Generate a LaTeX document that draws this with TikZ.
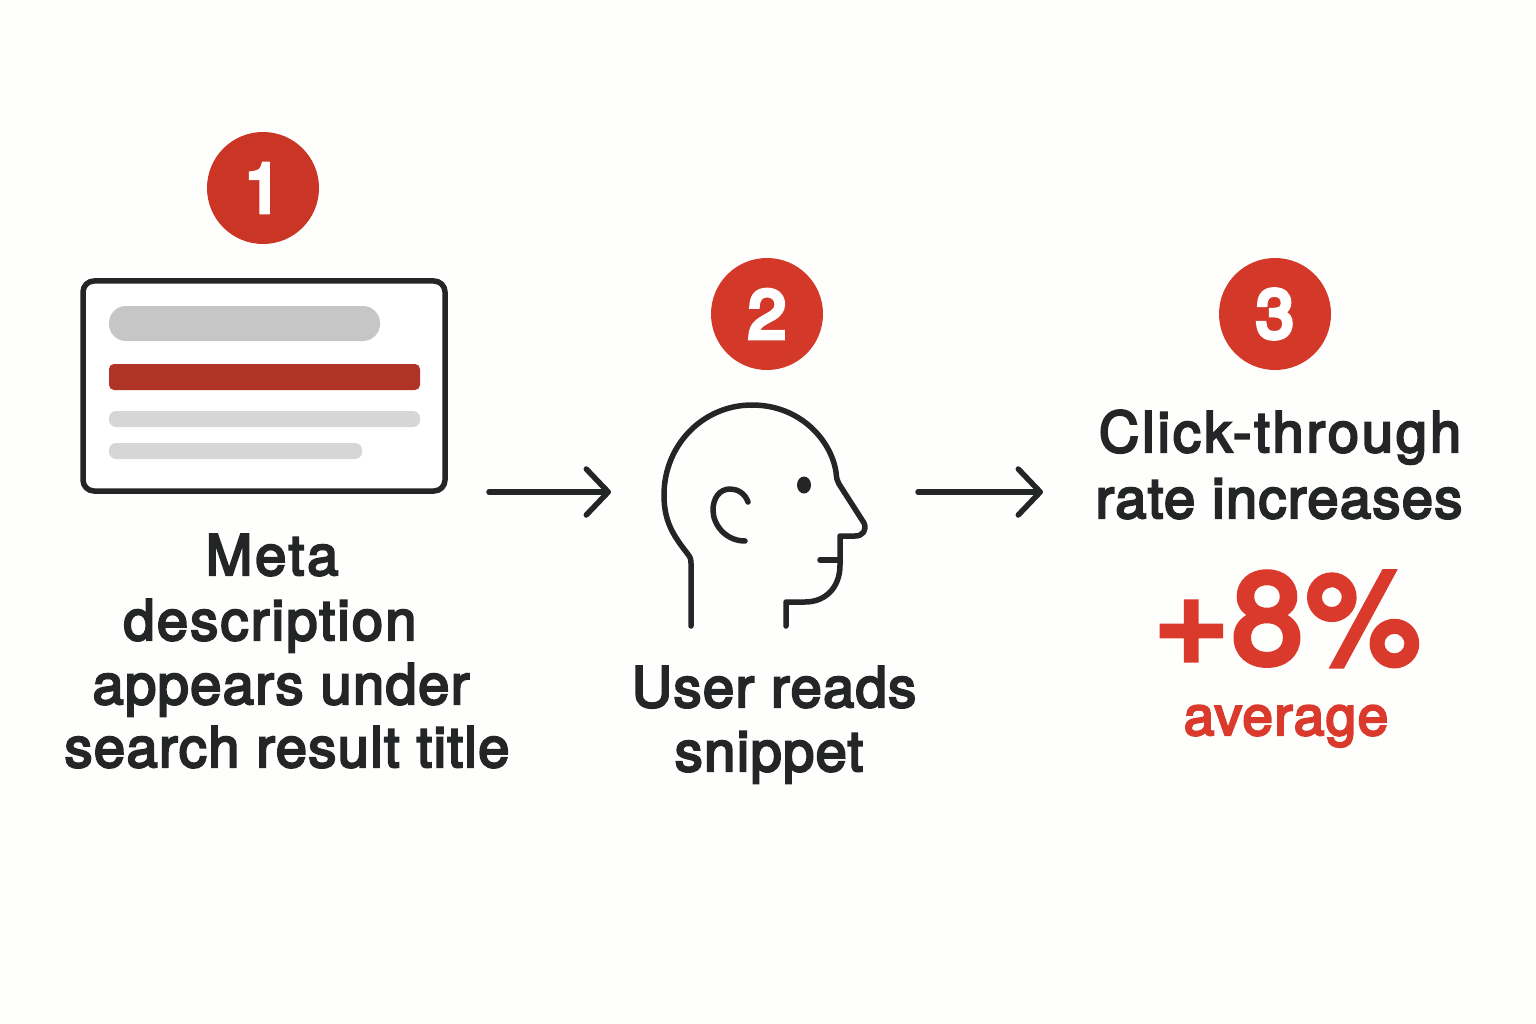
\documentclass[tikz,border=0pt]{standalone}
\usepackage{fontspec}
\setmainfont{TeX Gyre Heros}[LetterSpace=2.5]
\newfontfamily\numfont{TeX Gyre Heros}[Ligatures=TeX]
\newfontfamily\widefont{TeX Gyre Heros}[LetterSpace=5.2]
\newfontfamily\midfont{TeX Gyre Heros}[LetterSpace=4]
\usetikzlibrary{arrows.meta}
\definecolor{ink}{HTML}{232527}
\definecolor{redA}{HTML}{CB3526}
\definecolor{redB}{HTML}{D33829}
\definecolor{redT}{HTML}{DA3A2C}
\definecolor{barred}{HTML}{B03327}
\definecolor{grayA}{HTML}{C6C6C6}
\definecolor{grayB}{HTML}{D6D6D6}
\definecolor{paper}{HTML}{FEFEFD}
\newcommand{\heavy}[1]{\special{pdf:code 2 Tr #1 w}}
\newcommand{\plain}{\special{pdf:code 0 Tr}}
\tikzset{
  badge/.style={circle,fill=#1,text=white,minimum size=112pt,inner sep=0pt,font=\numfont\fontsize{68}{68}\selectfont,
    execute at begin node={\heavy{4.5}},execute at end node={\plain}},
  captext/.style={text=ink,inner sep=0pt,font=\fontsize{56}{56}\selectfont,anchor=base,
    execute at begin node={\heavy{2.2}},execute at end node={\plain}},
  widecap/.style={captext,font=\widefont\fontsize{56}{56}\selectfont},
  midcap/.style={captext,font=\midfont\fontsize{56}{56}\selectfont},
  bigtext/.style={captext,text=redT,font=\fontsize{#1}{#1}\selectfont},
  bar/.style={fill=#1,draw=none},
  lineart/.style={draw=ink,line width=5.5pt,line cap=round,line join=round},
  flow/.style={draw=ink,line width=5.5pt,line cap=round,-{Straight Barb[length=22pt,width=46pt,line width=5.5pt,round]}},
}
\begin{document}
\begin{tikzpicture}[x=1pt,y=-1pt]
\fill[paper] (0,0) rectangle (1536,1024);
\useasboundingbox (0,0) rectangle (1536,1024);
% badges
\node[badge=redA] (b1) at (263,188) {1};
\node[badge=redB] (b2) at (767,314) {2};
\node[badge=redB] (b3) at (1275,314) {3};
% card
\draw[lineart,fill=white,rounded corners=11pt] (83,281) rectangle (445,491);
\fill[bar=grayA,rounded corners=17pt] (109,306) rectangle (380,341);
\fill[bar=barred,rounded corners=5pt] (109,364) rectangle (420,390);
\fill[bar=grayB,rounded corners=7pt] (109,411) rectangle (420,427);
\fill[bar=grayB,rounded corners=7pt] (109,443) rectangle (362,459);
% head
\draw[lineart] (691,626) -- (691,563) .. controls (691,557) and (689,556) .. (687,553)
  .. controls (672,534) and (664,520) .. (664,495)
  .. controls (664,445) and (703,405) .. (752,405)
  .. controls (800,405) and (831,440) .. (836,472)
  .. controls (836.5,478) and (837,481) .. (839,484)
  -- (864,523) .. controls (867,530) and (863,536) .. (855,536)
  -- (840,536) -- (840,565)
  .. controls (840,588) and (825,602) .. (805,602)
  -- (786,602) -- (786,626);
\draw[lineart] (820,560) -- (840,560);
\draw[lineart] (748,502) .. controls (745,493) and (737,489) .. (730,489)
  .. controls (719,489) and (713,499) .. (713,510)
  .. controls (713,525) and (726,541) .. (745,541);
\fill[ink] (804,485) ellipse (7pt and 8.5pt);
% arrows
\coordinate (a1s) at (489,492); \coordinate (a1e) at (611,492);
\coordinate (a2s) at (918,492); \coordinate (a2e) at (1043,492);
\draw[flow] (a1s) -- (a1e);
\draw[flow] (a2s) -- (a2e);
% captions
\node[widecap] (t1a) at (272,575) {Meta};
\node[midcap] (t1b) at (270,640) {description};
\node[captext] (t1c) at (281,704) {appears under};
\node[captext] (t1d) at (287,767) {search result title};
\node[captext] (t2a) at (774,707) {User reads};
\node[captext] (t2b) at (769,771) {snippet};
\node[widecap] (t3a) at (1280,452) {Click-through};
\node[captext] (t3b) at (1279,518) {rate increases};
\node[bigtext=128,execute at begin node={\heavy{6}}] (t3c) at (1287,663) {+8\%};
\node[bigtext=55] (t3d) at (1286,735) {average};
\end{tikzpicture}
\end{document}
